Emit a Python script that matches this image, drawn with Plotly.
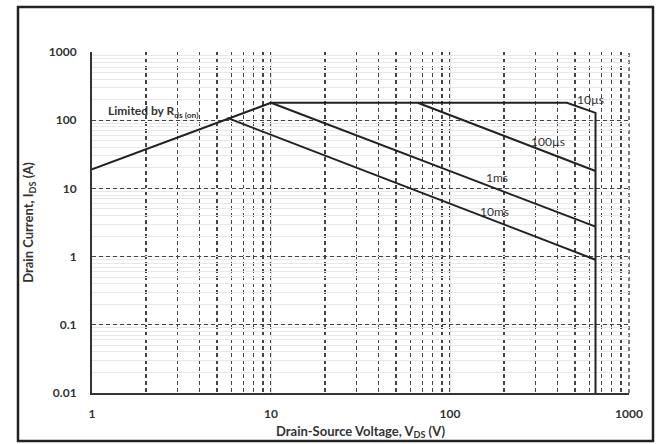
import math
import plotly.graph_objects as go

# ---- data ----
rds_v = [1, 10]
rds_i = [19, 180]

us10_v = [10, 450, 650, 650]
us10_i = [180, 180, 128, 0.01]

us100_v = [66, 650]
us100_i = [180, 18]

ms1_v = [10, 650]
ms1_i = [180, 2.75]

ms10_v = [5.7, 650]
ms10_i = [108, 0.9]

x_ticks = [1, 10, 100, 1000]
x_ticklabels = ["1", "10", "100", "1000"]
y_ticks = [0.01, 0.1, 1, 10, 100, 1000]
y_ticklabels = ["0.01", "0.1", "1", "10", "100", "1000"]

labels = ["Limited by R<sub>ds (on)</sub>", "10µs", "100µs", "1ms", "10ms"]
label_v = [1.2, 500, 275, 155, 143]
label_i = [135, 203, 49, 14.6, 4.66]

FONT = "Lato"
LINE = "#222222"

fig = go.Figure()
for xs, ys in [(rds_v, rds_i), (us10_v, us10_i), (us100_v, us100_i),
               (ms1_v, ms1_i), (ms10_v, ms10_i)]:
    fig.add_trace(go.Scatter(x=xs, y=ys, mode="lines",
                             line=dict(color=LINE, width=2),
                             showlegend=False, hoverinfo="skip"))

# annotations on log axes take log10 positions
for i, (t, xv, yv) in enumerate(zip(labels, label_v, label_i)):
    fig.add_annotation(x=math.log10(xv), y=math.log10(yv), xref="x", yref="y",
                       text=t, showarrow=False, xanchor="left", yanchor="middle",
                       font=dict(family=FONT, size=12, color="#333333",
                                 weight="bold" if i == 0 else "normal"))

fig.update_xaxes(
    type="log", range=[0, 3], automargin=False,
    tickvals=x_ticks, ticktext=x_ticklabels,
    showline=True, linecolor="#333333", linewidth=2,
    showgrid=True, gridcolor="#e4e4e4", gridwidth=1,
    ticks="", ticklabelstandoff=9,
    tickfont=dict(family=FONT, size=12, color="#333333", weight="bold"),
    minor=dict(dtick="D1", showgrid=True, gridcolor="#444444",
               griddash="4px,3px", gridwidth=1.4),
    title=dict(text="Drain-Source Voltage, V<sub>DS</sub> (V)", standoff=6,
               font=dict(family=FONT, size=13, color="#333333", weight="bold")),
    zeroline=False,
)
fig.update_yaxes(
    type="log", range=[-2, 3], automargin=False,
    tickvals=y_ticks, ticktext=y_ticklabels,
    showline=True, linecolor="#333333", linewidth=2,
    showgrid=True, gridcolor="#444444", gridwidth=1.4, griddash="4px,3px",
    ticks="", ticklabelstandoff=11,
    tickfont=dict(family=FONT, size=12, color="#333333", weight="bold"),
    minor=dict(dtick="D1", showgrid=True, gridcolor="#e8e8e8", gridwidth=1,
               griddash="solid"),
    title=dict(text="Drain Current, I<sub>DS</sub> (A)", standoff=12,
               font=dict(family=FONT, size=13, color="#333333", weight="bold")),
    zeroline=False,
)

# right edge dashed grid line (x = 1000 edge of plot area)
fig.add_shape(type="line", xref="paper", yref="paper", x0=1, x1=1, y0=0, y1=1,
              line=dict(color="#444444", width=1.4, dash="4px,3px"), layer="below")

# outer frame of the picture
L, R, T, B = 92, 27, 52, 51
W, H = 656, 444
pw, ph = W - L - R, H - T - B
def px(xp):
    return (xp - L) / pw
def py(yp):
    return (H - B - yp) / ph
fig.add_shape(type="rect", xref="paper", yref="paper",
              x0=px(18), x1=px(653), y0=py(441), y1=py(7),
              line=dict(color="#222222", width=2.5), fillcolor="rgba(0,0,0,0)")

fig.update_layout(
    width=W, height=H,
    margin=dict(l=L, r=R, t=T, b=B, autoexpand=False),
    paper_bgcolor="white", plot_bgcolor="white",
    font=dict(family=FONT),
)

html = fig.to_html(full_html=True, include_plotlyjs=True,
                   config={"displayModeBar": False, "staticPlot": True})
html = html.replace("<head>", "<head><style>html,body{margin:0;padding:0;overflow:hidden;}</style>", 1)
with open("out.html", "w", encoding="utf-8") as f:
    f.write(html)
